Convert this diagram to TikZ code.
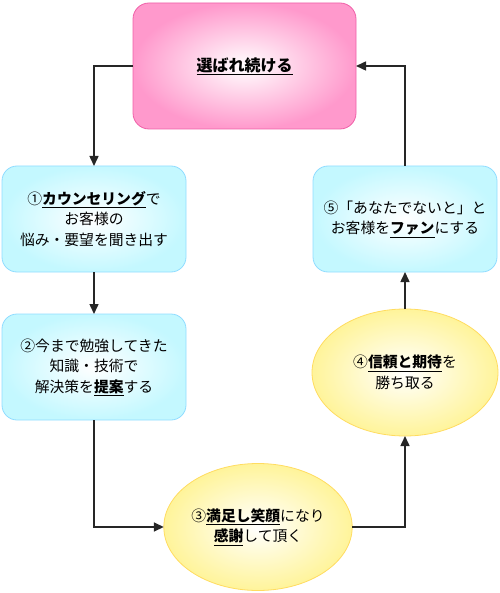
\documentclass[tikz,border=0pt]{standalone}
\usepackage{fontspec}
\newfontfamily\jp{Noto Sans CJK JP}
\usetikzlibrary{shapes.geometric,arrows.meta}
\definecolor{pinkout}{HTML}{FF99CC}
\definecolor{pinkline}{HTML}{F060A8}
\definecolor{cyanout}{HTML}{C4F8FF}
\definecolor{cyanline}{HTML}{90DCFF}
\definecolor{yelout}{HTML}{FFF49A}
\definecolor{yelline}{HTML}{FFDC60}
\definecolor{arrcol}{HTML}{262626}
\newcommand{\emu}[1]{\underline{\textbf{#1}}}
\tikzset{
  base/.style={inner sep=0pt, outer sep=0pt, align=center, line width=0.8pt,
    font=\jp\fontsize{14.8}{20.5}\selectfont},
  topbox/.style={base, rectangle, rounded corners=16pt, draw=pinkline,
    inner color=white, outer color=pinkout, minimum width=223pt, minimum height=126pt,
    font=\jp\bfseries\fontsize{16}{20}\selectfont},
  bluebox/.style={base, rectangle, rounded corners=15pt, draw=cyanline,
    inner color=white, outer color=cyanout, minimum width=184pt, minimum height=106pt},
  yelell/.style={base, ellipse, draw=yelline,
    inner color=white, outer color=yelout, minimum width=186pt, minimum height=127pt},
  arr/.style={draw=arrcol, line width=1.5pt, -{Triangle[length=10pt,width=9pt]}}
}
\begin{document}
\begin{tikzpicture}[x=1pt,y=-1pt]
\useasboundingbox (0,0) rectangle (499,593);
\node[topbox] (top) at (244.5,66) {\underline{選ばれ続ける}};
\node[bluebox] (b1) at (94,219) {①\emu{カウンセリング}で\\お客様の\\悩み・要望を聞き出す};
\node[bluebox] (b2) at (94,367) {②今まで勉強してきた\\知識・技術で\\解決策を\emu{提案}する};
\node[yelell] (e3) at (258,527) {③\emu{満足し笑顔}になり\\\emu{感謝}して頂く};
\node[yelell] (e4) at (405,372.5) {④\emu{信頼と期待}を\\勝ち取る};
\node[bluebox] (b5) at (405,219) {⑤「あなたでないと」と\\お客様を\emu{ファン}にする};
\draw[arr] (top.west) -| (b1.north);
\draw[arr] (b1.south) -- (b2.north);
\draw[arr] (b2.south) |- (e3.west);
\draw[arr] (e3.east) -| (e4.south);
\draw[arr] (e4.north) -- (b5.south);
\draw[arr] (b5.north) |- (top.east);
\end{tikzpicture}
\end{document}
